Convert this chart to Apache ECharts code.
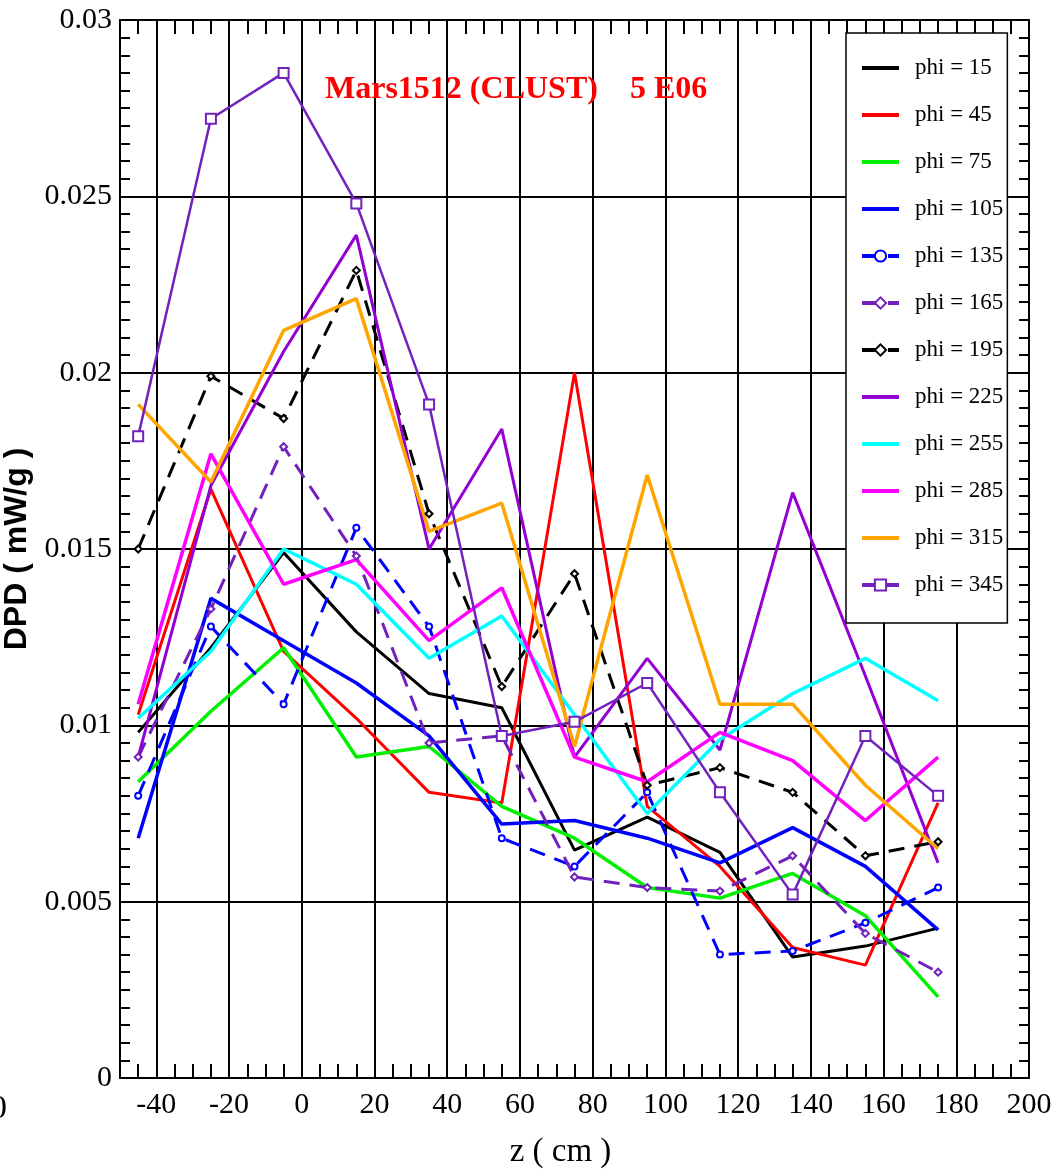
<!DOCTYPE html>
<html>
<head>
<meta charset="utf-8">
<script src="https://cdn.jsdelivr.net/npm/echarts@6/dist/echarts.min.js"></script>
<style>
  html, body { margin: 0; padding: 0; background: #ffffff; }
  #chart { width: 1053px; height: 1174px; }
</style>
</head>
<body>
<div id="chart"></div>
<script>
// Axial positions of the dose samples (cm)
const zPos = [-45, -25, -5, 15, 35, 55, 75, 95, 115, 135, 155, 175];

// DPD (mW/g) per azimuth phi
const phi15  = [0.0098, 0.0122, 0.0149, 0.01265, 0.0109, 0.0105, 0.00646, 0.0074, 0.0064, 0.00343, 0.00374, 0.00425];
const phi45  = [0.0103, 0.0167, 0.0121, 0.0102, 0.0081, 0.0078, 0.0200, 0.0077, 0.0060, 0.0037, 0.0032, 0.0078];
const phi75  = [0.0084, 0.0104, 0.0122, 0.0091, 0.0094, 0.0077, 0.0068, 0.0054, 0.0051, 0.0058, 0.0046, 0.0023];
const phi105 = [0.0068, 0.0136, 0.0124, 0.0112, 0.0097, 0.0072, 0.0073, 0.0068, 0.0061, 0.0071, 0.0060, 0.0042];
const phi135 = [0.0080, 0.0128, 0.0106, 0.0156, 0.0128, 0.0068, 0.0060, 0.0081, 0.0035, 0.0036, 0.0044, 0.0054];
const phi165 = [0.0091, 0.0133, 0.0179, 0.0148, 0.0095, 0.0097, 0.0057, 0.0054, 0.0053, 0.0063, 0.0041, 0.0030];
const phi195 = [0.0150, 0.0199, 0.0187, 0.0229, 0.0160, 0.0111, 0.0143, 0.0083, 0.0088, 0.0081, 0.0063, 0.0067];
const phi225 = [0.0091, 0.0168, 0.0206, 0.0239, 0.0150, 0.0184, 0.0091, 0.0119, 0.0093, 0.0166, 0.0114, 0.0061];
const phi255 = [0.0102, 0.0121, 0.0150, 0.0140, 0.0119, 0.0131, 0.0103, 0.0075, 0.0096, 0.0109, 0.0119, 0.0107];
const phi285 = [0.0106, 0.0177, 0.0140, 0.0147, 0.0124, 0.0139, 0.0091, 0.0084, 0.0098, 0.0090, 0.0073, 0.0091];
const phi315 = [0.0191, 0.0169, 0.0212, 0.0221, 0.0155, 0.0163, 0.0094, 0.0171, 0.0106, 0.0106, 0.0083, 0.0065];
const phi345 = [0.0182, 0.0272, 0.0285, 0.0248, 0.0191, 0.0097, 0.0101, 0.0112, 0.0081, 0.0052, 0.0097, 0.0080];

const seriesNames = ['phi = 15', 'phi = 45', 'phi = 75', 'phi = 105', 'phi = 135', 'phi = 165',
                     'phi = 195', 'phi = 225', 'phi = 255', 'phi = 285', 'phi = 315', 'phi = 345'];
// Entries whose legend sample is a plain line (no marker)
const plainLegend = ['phi = 15', 'phi = 45', 'phi = 75', 'phi = 105',
                     'phi = 225', 'phi = 255', 'phi = 285', 'phi = 315'];

const SERIF = 'Liberation Serif';
const DASH = [16, 10];

function pairs(vals) {
  return zPos.map((z, i) => [z, vals[i]]);
}

function lineSeries(name, vals, color, width, extra) {
  return Object.assign({
    name: name,
    type: 'line',
    data: pairs(vals),
    symbol: 'none',
    silent: true,
    animation: false,
    color: color,
    lineStyle: { color: color, width: width, type: 'solid' },
    emphasis: { disabled: true }
  }, extra || {});
}

// Split lines only on every 20 cm (x) and every 0.005 (y); the ticks keep the finer step
const TRANSPARENT = 'rgba(0,0,0,0)';
const xGridColors = [TRANSPARENT, TRANSPARENT, '#000000', TRANSPARENT];
const yGridColors = ['#000000', TRANSPARENT, TRANSPARENT, TRANSPARENT, TRANSPARENT,
                     TRANSPARENT, TRANSPARENT, TRANSPARENT, TRANSPARENT, TRANSPARENT];

const frameLine = { show: true, onZero: false, lineStyle: { color: '#000000', width: 2 } };

const legendData = seriesNames.map(n => plainLegend.indexOf(n) >= 0
  ? { name: n, itemStyle: { opacity: 0 } }
  : { name: n });

const chart = echarts.init(document.getElementById('chart'), null, { renderer: 'canvas' });

chart.setOption({
  backgroundColor: '#ffffff',
  animation: false,
  title: {
    text: 'Mars1512 (CLUST)    5 E06',
    left: 325,
    top: 74,
    padding: 0,
    textStyle: { fontFamily: SERIF, fontWeight: 'bold', fontSize: 32, color: '#ff0000' }
  },
  grid: { left: 120, right: 24, top: 20, bottom: 96, outerBoundsMode: 'none', containLabel: false },
  legend: {
    orient: 'vertical',
    left: 846,
    top: 33,
    padding: [20, 4, 23, 14],
    itemGap: 17,
    itemWidth: 37,
    itemHeight: 14,
    backgroundColor: '#ffffff',
    borderColor: '#000000',
    borderWidth: 1.5,
    borderRadius: 0,
    selectedMode: false,
    lineStyle: { width: 4 },
    textStyle: { fontFamily: SERIF, fontSize: 23, color: '#000000', lineHeight: 30, padding: [0, 0, 0, 11] },
    data: legendData
  },
  xAxis: [
    {
      type: 'value', position: 'bottom',
      min: -50, max: 200, interval: 5,
      name: 'z ( cm )', nameLocation: 'middle', nameGap: 58,
      nameTextStyle: { fontFamily: SERIF, fontSize: 33, color: '#000000', padding: [0, 28, 0, 0] },
      axisLine: frameLine,
      axisTick: { show: true, inside: true, length: 14, lineStyle: { color: '#000000', width: 2 } },
      axisLabel: {
        show: true, margin: 12, fontFamily: SERIF, fontSize: 30, color: '#000000',
        formatter: v => (Math.round(v) % 20 === 0 ? String(Math.round(v)) : '')
      },
      splitLine: { show: true, lineStyle: { color: xGridColors, width: 2 } }
    },
    {
      type: 'value', position: 'top',
      min: -50, max: 200, interval: 5,
      axisLine: frameLine,
      axisTick: { show: true, inside: true, length: 14, lineStyle: { color: '#000000', width: 2 } },
      axisLabel: { show: false },
      splitLine: { show: false }
    }
  ],
  yAxis: [
    {
      type: 'value', position: 'left',
      min: 0, max: 0.03, interval: 0.0005,
      name: 'DPD ( mW/g )', nameLocation: 'middle', nameGap: 66, nameRotate: 90,
      nameTextStyle: { fontFamily: 'Liberation Sans', fontWeight: 'bold', fontSize: 32, color: '#000000' },
      axisLine: frameLine,
      axisTick: { show: true, inside: true, length: 10, lineStyle: { color: '#000000', width: 2 } },
      axisLabel: {
        show: true, margin: 8, fontFamily: SERIF, fontSize: 30, color: '#000000',
        formatter: v => {
          const k = Math.round(v * 10000);
          return k % 50 === 0 ? String(k / 10000) : '';
        }
      },
      splitLine: { show: true, lineStyle: { color: yGridColors, width: 2 } }
    },
    {
      type: 'value', position: 'right',
      min: 0, max: 0.03, interval: 0.0005,
      axisLine: frameLine,
      axisTick: { show: true, inside: true, length: 10, lineStyle: { color: '#000000', width: 2 } },
      axisLabel: { show: false },
      splitLine: { show: false }
    }
  ],
  graphic: [
    {
      type: 'text', left: -10, top: 1092, silent: true,
      style: { text: '0', fontFamily: SERIF, fontSize: 34, fill: '#000000' }
    }
  ],
  series: [
    lineSeries('phi = 15',  phi15,  '#000000', 3),
    lineSeries('phi = 45',  phi45,  '#ff0000', 3),
    lineSeries('phi = 75',  phi75,  '#00f000', 3.5),
    lineSeries('phi = 105', phi105, '#0000ff', 3.5),
    lineSeries('phi = 135', phi135, '#0000ff', 3, {
      symbol: 'emptyCircle', symbolSize: 6, showSymbol: true,
      lineStyle: { color: '#0000ff', width: 3, type: DASH },
      itemStyle: { color: '#0000ff', borderColor: '#0000ff', borderWidth: 1.5 }
    }),
    lineSeries('phi = 165', phi165, '#7221bc', 3, {
      symbol: 'emptyDiamond', symbolSize: 7, showSymbol: true,
      lineStyle: { color: '#7221bc', width: 3, type: DASH },
      itemStyle: { color: '#7221bc', borderColor: '#7221bc', borderWidth: 1.5 }
    }),
    lineSeries('phi = 195', phi195, '#000000', 3, {
      symbol: 'emptyDiamond', symbolSize: 7, showSymbol: true,
      lineStyle: { color: '#000000', width: 3, type: DASH },
      itemStyle: { color: '#000000', borderColor: '#000000', borderWidth: 1.5 }
    }),
    lineSeries('phi = 225', phi225, '#9400d3', 3),
    lineSeries('phi = 255', phi255, '#00ffff', 3.5),
    lineSeries('phi = 285', phi285, '#ff00ff', 3.5),
    lineSeries('phi = 315', phi315, '#ffa500', 3.5),
    lineSeries('phi = 345', phi345, '#7221bc', 2.5, {
      symbol: 'emptyRect', symbolSize: 10, showSymbol: true,
      lineStyle: { color: '#7221bc', width: 2.5, type: 'solid' },
      itemStyle: { color: '#7221bc', borderColor: '#7221bc', borderWidth: 1.5 }
    })
  ]
});
</script>
</body>
</html>
